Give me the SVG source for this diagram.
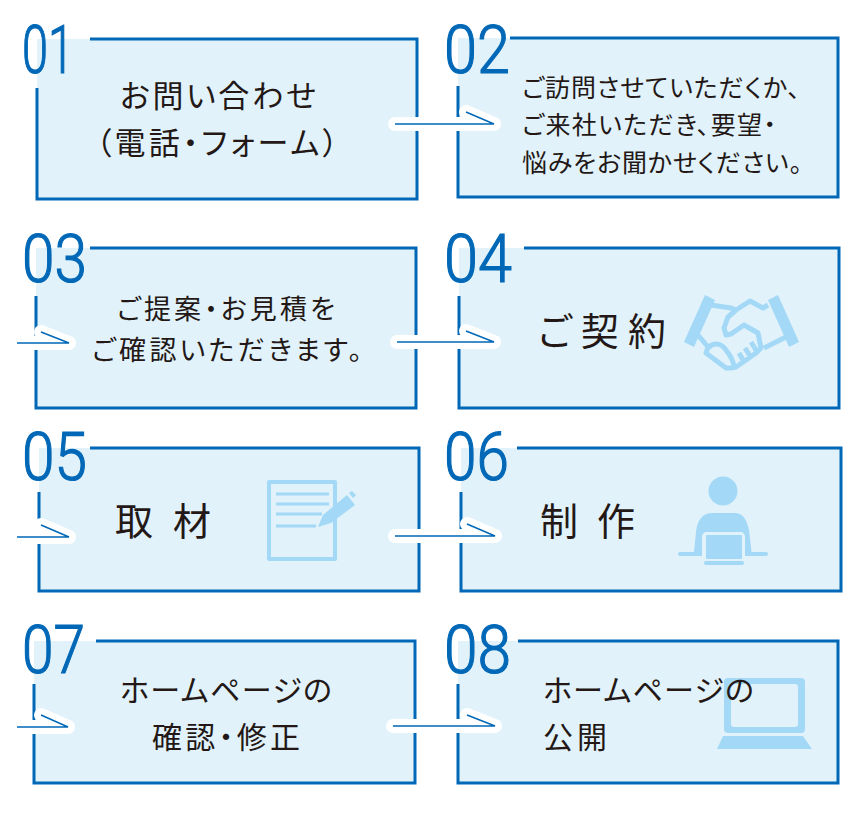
<svg xmlns="http://www.w3.org/2000/svg" width="853" height="829" viewBox="0 0 853 829">
<style>
.bg{fill:#e1f2fb}
.ol{fill:none;stroke:#0068b7;stroke-width:3}
.num{font-family:Roboto,"Liberation Sans",sans-serif;font-weight:300;font-size:67px;fill:#0068b7;stroke:#0068b7;stroke-width:1.2}
.t{font-family:"Noto Sans CJK JP",sans-serif;font-weight:400;fill:#231815;font-feature-settings:"palt"}
.ic{fill:#a3d9f6}
.icl{fill:none;stroke:#a3d9f6;stroke-width:4;stroke-linejoin:round}
.halo{fill:none;stroke:#fff;stroke-width:14;stroke-linecap:round;stroke-linejoin:round}
.arr{fill:none;stroke:#0068b7;stroke-width:1.5}
</style>
<rect width="853" height="829" fill="#fff"/>
<g id="node-01">
<rect class="bg" x="37" y="39" width="380" height="160"/>
<path class="ol" d="M90,39H417V199H37V88"/>
<text class="num" x="22" y="73" textLength="52" lengthAdjust="spacingAndGlyphs">01</text>
<text class="t" x="120" y="107" font-size="31" textLength="196">お問い合わせ</text>
<text class="t" x="96" y="154" font-size="31" textLength="242">（電話・フォーム）</text>
</g>
<g id="node-02">
<rect class="bg" x="458" y="38" width="380" height="159"/>
<path class="ol" d="M510,38H838V197H458V86"/>
<text class="num" x="444" y="73" textLength="66" lengthAdjust="spacingAndGlyphs">02</text>
<text class="t" x="522" y="97" font-size="25" textLength="278">ご訪問させていただくか、</text>
<text class="t" x="522" y="134" font-size="25" textLength="254">ご来社いただき、要望・</text>
<text class="t" x="522" y="172" font-size="25" textLength="280">悩みをお聞かせください。</text>
</g>
<g id="node-03">
<rect class="bg" x="36" y="248" width="380" height="160"/>
<path class="ol" d="M90,248H416V408H36V296"/>
<text class="num" x="22" y="282" textLength="65" lengthAdjust="spacingAndGlyphs">03</text>
<text class="t" x="117" y="319" font-size="27" textLength="218">ご提案・お見積を</text>
<text class="t" x="92" y="360" font-size="27" textLength="270">ご確認いただきます。</text>
</g>
<g id="node-04">
<rect class="bg" x="459" y="248" width="380" height="160"/>
<path class="ol" d="M524,248H839V408H459V296"/>
<text class="num" x="444" y="282" textLength="68" lengthAdjust="spacingAndGlyphs">04</text>
<text class="t" x="538" y="345" font-size="38" textLength="128">ご 契 約</text>
<g id="icon-handshake">
<path class="ic" d="M705,295L715,300L694,347L684,342Z M778,295L768,300L789,347L799,342Z"/>
<path class="icl" style="stroke-width:5" d="M711,305L731,308L736,310 M768,305L763,308L750,301L736,310L728,317L724,328L726,335L731,334L744,325L758,333L761,348L756,353L736,367L731,368L726,368L706,353L708,347L698,335 M786,337L764,348 M708,348C714,341 722,344 726,350C730,355 733,360 734,366 M739,353L743,360 M745,348L750,356 M751,342L756,350"/>
</g>
</g>
<g id="node-05">
<rect class="bg" x="39" y="448" width="380" height="143"/>
<path class="ol" d="M90,448H419V591H39V492"/>
<text class="num" x="22" y="480" textLength="65" lengthAdjust="spacingAndGlyphs">05</text>
<text class="t" x="115" y="535" font-size="38" textLength="96">取 材</text>
<g id="icon-document">
<rect class="icl" x="269" y="482" width="66" height="77"/>
<path class="icl" style="stroke-width:3" d="M276,494H329M276,504H329M276,514H322M276,526H316"/>
<path class="ic" d="M318,527L323,515L347,495L355,505L331,523Z M349,493L352,491L356,495L353,498Z"/>
</g>
</g>
<g id="node-06">
<rect class="bg" x="461" y="448" width="380" height="143"/>
<path class="ol" d="M517,448H841V591H461V492"/>
<text class="num" x="444" y="480" textLength="65" lengthAdjust="spacingAndGlyphs">06</text>
<text class="t" x="540" y="535" font-size="38" textLength="95">制 作</text>
<g id="icon-person">
<circle class="ic" cx="723" cy="491" r="14.500"/>
<path class="ic" d="M694,552L696,532C697,520 703,513 712,513H735C743,513 747,520 749,530L752,556H745V537C745,534 743,532 740,532H707C704,532 702,534 702,537V556H694Z"/>
<rect class="ic" x="678" y="552" width="24" height="4" rx="2"/>
<rect class="ic" x="745" y="552" width="23" height="4" rx="2"/>
<rect class="ic" x="706" y="535" width="36" height="24" rx="1"/>
<rect class="ic" x="704" y="561" width="40" height="4" rx="2"/>
</g>
</g>
<g id="node-07">
<rect class="bg" x="34" y="641" width="381" height="142"/>
<path class="ol" d="M96,641H415V783H34V684"/>
<text class="num" x="22" y="673" textLength="63" lengthAdjust="spacingAndGlyphs">07</text>
<text class="t" x="120" y="701" font-size="30" textLength="212">ホームページの</text>
<text class="t" x="152" y="748" font-size="30" textLength="148">確認・修正</text>
</g>
<g id="node-08">
<rect class="bg" x="458" y="641" width="380" height="142"/>
<path class="ol" d="M518,641H838V783H458V684"/>
<g id="icon-laptop">
<path class="ic" fill-rule="evenodd" d="M728,678H801A4,4 0 0 1 805,682V729A4,4 0 0 1 801,733H728A4,4 0 0 1 724,729V682A4,4 0 0 1 728,678Z M734,684A3,3 0 0 0 731,687V724A3,3 0 0 0 734,727H795A3,3 0 0 0 798,724V687A3,3 0 0 0 795,684Z"/>
<path class="ic" d="M723,736H803L812,749H717Z"/>
</g>
<text class="num" x="444" y="673" textLength="67" lengthAdjust="spacingAndGlyphs">08</text>
<text class="t" x="543" y="701" font-size="30" textLength="211">ホームページの</text>
<text class="t" x="543" y="748" font-size="30" textLength="64">公開</text>
</g>
<g id="connectors">
<path class="halo" d="M395,124H494L466,112"/><path class="arr" d="M395,124H494L466,112"/>
<path class="halo" d="M32,343H69L41,332"/><path class="arr" d="M17,343H69L41,332"/>
<path class="halo" d="M397,342H494L466,331"/><path class="arr" d="M397,342H494L466,331"/>
<path class="halo" d="M32,537H69L41,525"/><path class="arr" d="M17,537H69L41,525"/>
<path class="halo" d="M395,536H495L467,524"/><path class="arr" d="M395,536H495L467,524"/>
<path class="halo" d="M32,727H68L41,715"/><path class="arr" d="M17,727H68L41,715"/>
<path class="halo" d="M393,726H495L467,715"/><path class="arr" d="M393,726H495L467,715"/>
</g>
</svg>
